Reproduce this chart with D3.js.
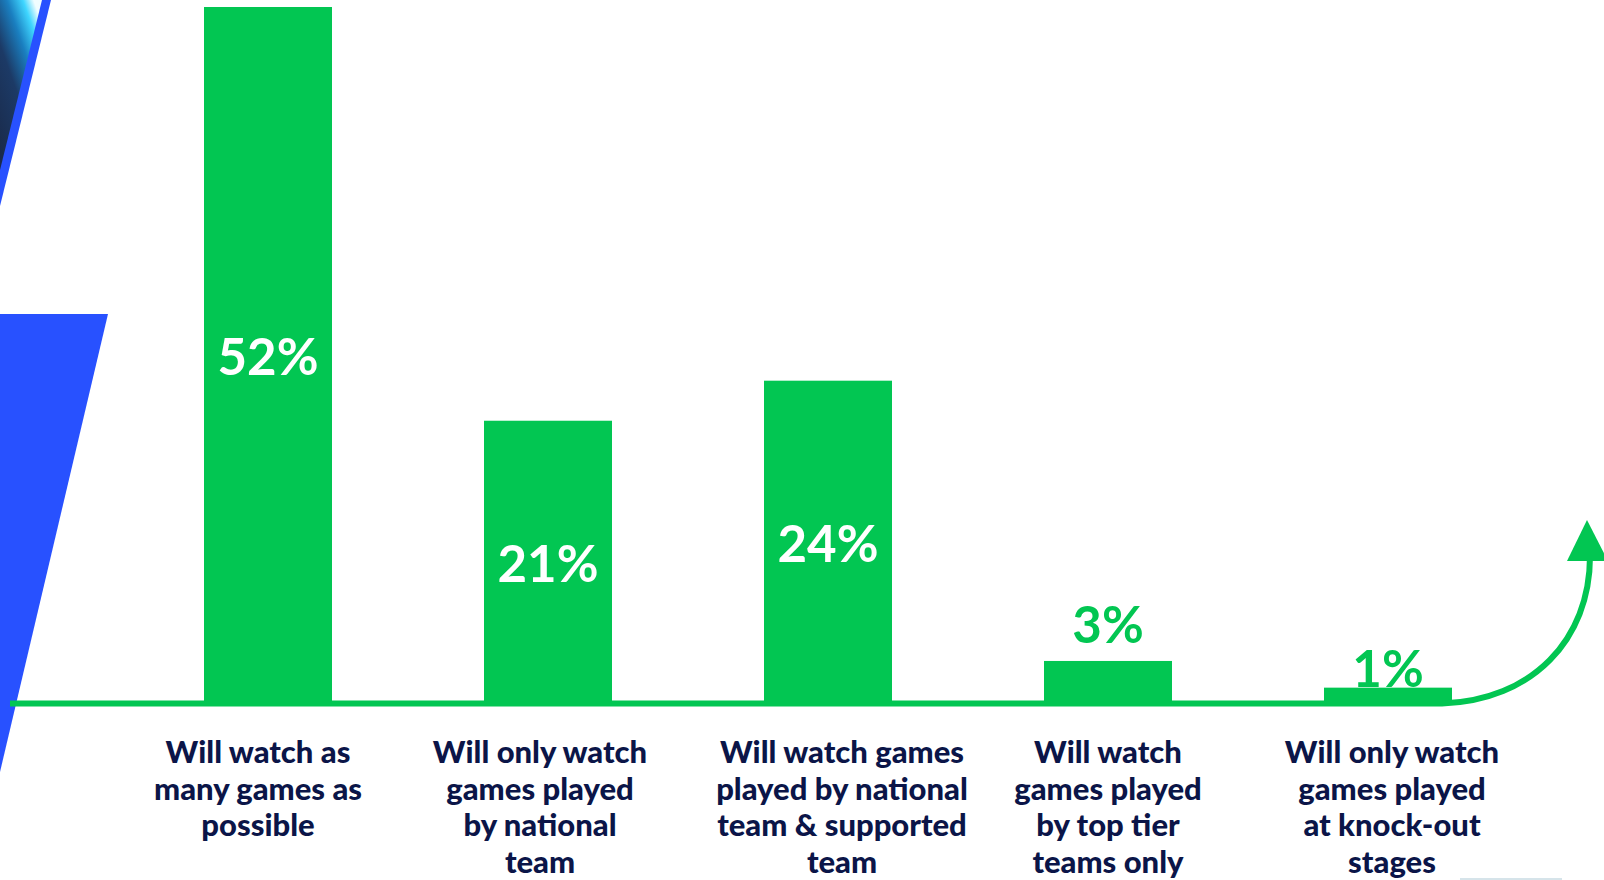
<!DOCTYPE html>
<html>
<head>
<meta charset="utf-8">
<script src="https://cdn.jsdelivr.net/npm/d3@7"></script>
<style>
  html, body { margin: 0; padding: 0; background: #ffffff; overflow: hidden; }
  svg { display: block; }
</style>
</head>
<body>
<svg id="chart" width="1604" height="880"></svg>
<script>
// ---- data ----
const categories = [
  "Will watch as many games as possible",
  "Will only watch games played by national team",
  "Will watch games played by national team & supported team",
  "Will watch games played by top tier teams only",
  "Will only watch games played at knock-out stages"
];
const categoryLines = [
  ["Will watch as", "many games as", "possible"],
  ["Will only watch", "games played", "by national", "team"],
  ["Will watch games", "played by national", "team & supported", "team"],
  ["Will watch", "games played", "by top tier", "teams only"],
  ["Will only watch", "games played", "at knock-out", "stages"]
];
const values = [52, 21, 24, 3, 1];
const valueLabels = ["52%", "21%", "24%", "3%", "1%"];

// ---- style ----
const GREEN = "#02c652";
const NAVY = "#0b1548";
const BLUE = "#2851ff";
const W = 1604, H = 880;
const baseY = 701, topY = 7;

const svg = d3.select("#chart");

const defs = svg.append("defs");
const grad = defs.append("linearGradient").attr("id", "sky")
  .attr("x1", "0.8").attr("y1", "0").attr("x2", "0.1").attr("y2", "1");
grad.append("stop").attr("offset", "0").attr("stop-color", "#f0fdff");
grad.append("stop").attr("offset", "0.12").attr("stop-color", "#3fd6ff");
grad.append("stop").attr("offset", "0.3").attr("stop-color", "#1a7fc0");
grad.append("stop").attr("offset", "0.55").attr("stop-color", "#1c3a66");
grad.append("stop").attr("offset", "1").attr("stop-color", "#1a2a4a");

// ---- decorative left shapes ----
const line = d3.line();
svg.append("path").attr("d", line([[0,0],[51,0],[0,206]]) + "Z").attr("fill", BLUE);
svg.append("path").attr("d", line([[0,0],[42,0],[0,170]]) + "Z").attr("fill", "url(#sky)");
svg.append("path").attr("d", line([[0,314],[108,314],[0,772]]) + "Z").attr("fill", BLUE);

// ---- scales ----
const x = d3.scaleBand()
  .domain(categories)
  .range([128, 1528])
  .paddingInner(152 / 280)
  .paddingOuter(76 / 280);

const y = d3.scaleLinear()
  .domain([0, d3.max(values)])
  .range([baseY, topY]);

// ---- bars ----
const g = svg.append("g");
g.selectAll("rect.bar")
  .data(values)
  .join("rect")
  .attr("class", "bar")
  .attr("x", (d, i) => x(categories[i]))
  .attr("y", d => y(d))
  .attr("width", x.bandwidth())
  .attr("height", d => y(0) - y(d))
  .attr("fill", GREEN);

// ---- baseline with curved arrow ----
const lastRight = x(categories[categories.length - 1]) + x.bandwidth();
const lineY = y(0) + 2.5;
const path = d3.path();
path.moveTo(10, lineY);
path.lineTo(lastRight - 10, lineY);
path.bezierCurveTo(lastRight + 80, lineY - 3, 1590, 640, 1590, 556);
svg.append("path")
  .attr("d", path.toString())
  .attr("fill", "none")
  .attr("stroke", GREEN)
  .attr("stroke-width", 6);
svg.append("path")
  .attr("d", line([[1587, 520], [1567, 561], [1608, 561]]) + "Z")
  .attr("fill", GREEN);

// ---- value labels ----
const labelFont = "Lato, 'Open Sans', sans-serif";
g.selectAll("text.val")
  .data(values)
  .join("text")
  .attr("class", "val")
  .attr("x", (d, i) => x(categories[i]) + x.bandwidth() / 2)
  .attr("y", (d, i) => d >= 10 ? (y(d) + y(0)) / 2 + 21 : y(d) - (d >= 2 ? 18 : 1))
  .attr("text-anchor", "middle")
  .attr("font-family", labelFont)
  .attr("font-weight", 700)
  .attr("font-size", 51)
  .attr("fill", d => d >= 10 ? "#ffffff" : GREEN)
  .text((d, i) => valueLabels[i]);

// ---- category labels ----
const labelShift = [-10, -8, 14, 0, 4];
const cat = svg.append("g");
categoryLines.forEach((lines, i) => {
  const cx = x(categories[i]) + x.bandwidth() / 2 + labelShift[i];
  const t = cat.append("text")
    .attr("text-anchor", "middle")
    .attr("font-family", labelFont)
    .attr("font-weight", 900)
    .attr("font-size", 31)
    .attr("fill", NAVY);
  lines.forEach((s, k) => {
    t.append("tspan").attr("x", cx).attr("y", 763 + k * 36.7).text(s);
  });
});

// faint line at bottom right
svg.append("rect").attr("x", 1460).attr("y", 878).attr("width", 102).attr("height", 2).attr("fill", "#d6e4ea");
</script>
</body>
</html>
